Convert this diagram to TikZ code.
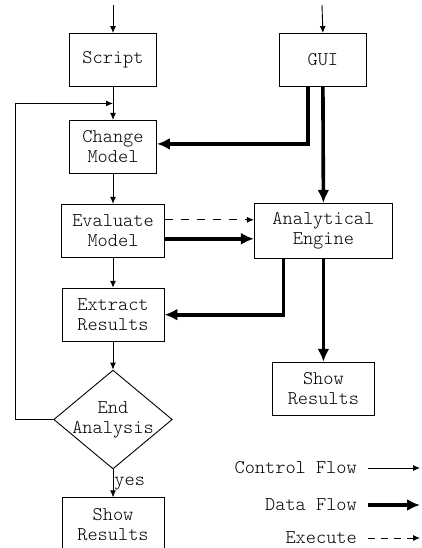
\documentclass[tikz,border=0pt]{standalone}
\usepackage{fontspec}
\setmonofont{Latin Modern Mono Light}
\usetikzlibrary{arrows.meta,positioning,shapes.geometric,calc}

\begin{document}
\begin{tikzpicture}[
    x=1pt, y=-1pt,
    every node/.style={font=\fontsize{19.4}{20}\selectfont\ttfamily},
    stepbox/.style={
      rectangle, draw, line width=0.9pt, align=center,
      minimum height=53pt, inner sep=2pt
    },
    decision/.style={
      diamond, draw, line width=0.9pt, align=center, aspect=1.2,
      minimum width=118pt, minimum height=98pt, inner sep=-1.5pt
    },
    ctrlarr/.style={-{Latex[length=7pt,width=6pt]}, line width=0.9pt},
    dataarr/.style={-{Latex[length=13pt,width=12pt]}, line width=3.6pt},
    execarr/.style={-{Latex[length=7pt,width=6pt]}, line width=0.9pt, dash pattern=on 8pt off 8pt}
  ]
    \useasboundingbox (0,0) rectangle (421,548);

    % left column
    \node[stepbox, minimum width=87pt] (script) at (113,60) {Script};
    \node[stepbox, minimum width=87pt, below=33pt of script] (change) {Change\\Model};
    \node[stepbox, minimum width=103pt, below=30pt of change] (eval) {Evaluate\\Model};
    \node[stepbox, minimum width=102pt, below=30pt of eval] (extract) {Extract\\Results};
    \node[decision, below=28pt of extract] (endan) {End\\Analysis};
    \node[stepbox, minimum width=102pt, below=28pt of endan] (showl) {Show\\Results};

    % right column
    \node[stepbox, minimum width=87pt, right=122pt of script] (gui) {GUI};
    \node[stepbox, minimum width=138pt, minimum height=55pt, right=89pt of eval] (engine) {Analytical\\Engine};
    \node[stepbox, minimum width=102pt, below=103pt of engine] (showr) {Show\\Results};

    % inputs from above
    \coordinate (scriptin) at (113,5);
    \coordinate (guiin) at (322,5);
    \draw[ctrlarr] (scriptin) -- (script.north);
    \draw[ctrlarr] (guiin) -- (gui.north);

    % control flow
    \draw[ctrlarr] (script.south) -- (change.north);
    \draw[ctrlarr] (change.south) -- (eval.north);
    \draw[ctrlarr] (eval.south) -- (extract.north);
    \draw[ctrlarr] (extract.south) -- (endan.north);
    \draw[ctrlarr] (endan.south) -- node[right, inner sep=1pt]{yes} (showl.north);

    % loop back
    \coordinate (loopin) at ($(script.south)!0.5!(change.north)$);
    \draw[ctrlarr] (endan.west) -- ++(-38,0) |- (loopin);

    % data flow
    \draw[dataarr] ([xshift=-15pt]gui.south) |- ([yshift=3pt]change.east);
    \draw[dataarr] (gui.south) -- (engine.north);
    \draw[dataarr] ([yshift=-8pt]eval.east) -- ([yshift=-8pt]engine.west);
    \draw[dataarr] ([xshift=-40pt]engine.south) |- (extract.east);
    \draw[dataarr] (engine.south) -- (showr.north);

    % execute
    \draw[execarr] ([yshift=11pt]eval.east) -- ([yshift=11pt]engine.west);

    % legend
    \node[anchor=east, inner sep=0pt] (lgctrl) at (357,468) {Control Flow};
    \node[anchor=east, inner sep=0pt] (lgdata) at (357,505) {Data Flow};
    \node[anchor=east, inner sep=0pt] (lgexec) at (357,538) {Execute};
    \coordinate (lgctrlend) at (420,468);
    \coordinate (lgdataend) at (420,505);
    \coordinate (lgexecend) at (420,538);
    \draw[ctrlarr] ([xshift=11pt]lgctrl.east) -- (lgctrlend);
    \draw[dataarr] ([xshift=11pt]lgdata.east) -- (lgdataend);
    \draw[execarr, dash pattern=on 7pt off 6pt] ([xshift=11pt]lgexec.east) -- (lgexecend);
  \end{tikzpicture}
\end{document}
